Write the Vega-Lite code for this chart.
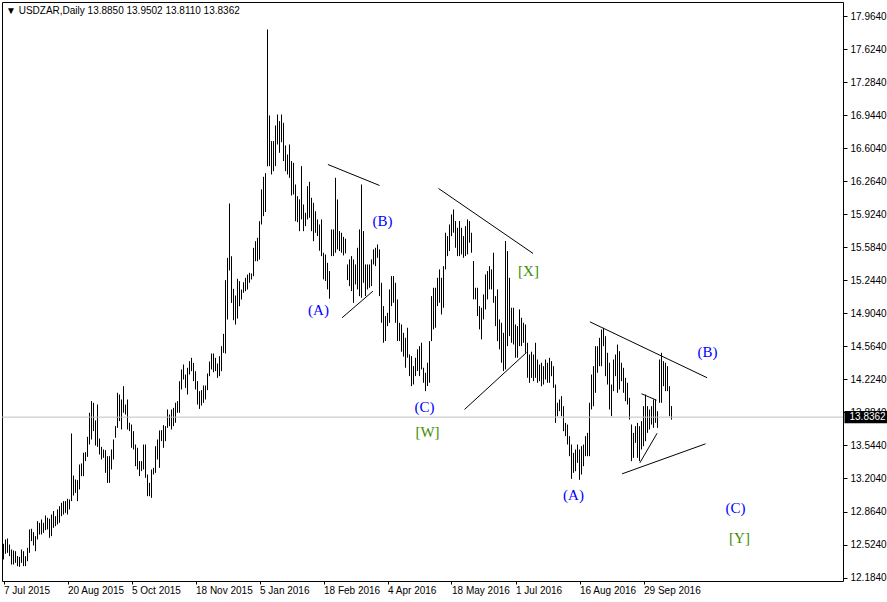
{
"$schema": "https://vega.github.io/schema/vega-lite/v6.json",
"width": 841, "height": 579,
"autosize": "none",
"padding": {"left": 2, "top": 2, "right": 44, "bottom": 21},
"background": "white",
"config": {"view": {"stroke": "black", "strokeWidth": 1}, "font": "Liberation Sans", "axis": {"labelOverlap": false, "labelFlush": false}},
"datasets": {
"bars": [
{"i":0,"h":12.531,"l":12.370},{"i":1,"h":12.576,"l":12.428},{"i":2,"h":12.586,"l":12.438},{"i":3,"h":12.524,"l":12.404},{"i":4,"h":12.473,"l":12.318},{"i":5,"h":12.462,"l":12.318},{"i":6,"h":12.455,"l":12.335},{"i":7,"h":12.404,"l":12.301},{"i":8,"h":12.397,"l":12.294},{"i":9,"h":12.473,"l":12.335},
{"i":10,"h":12.455,"l":12.301},{"i":11,"h":12.404,"l":12.301},{"i":12,"h":12.490,"l":12.352},{"i":13,"h":12.679,"l":12.438},{"i":14,"h":12.686,"l":12.559},{"i":15,"h":12.651,"l":12.514},{"i":16,"h":12.610,"l":12.455},{"i":17,"h":12.765,"l":12.576},{"i":18,"h":12.747,"l":12.627},{"i":19,"h":12.782,"l":12.627},
{"i":20,"h":12.747,"l":12.644},{"i":21,"h":12.823,"l":12.672},{"i":22,"h":12.799,"l":12.679},{"i":23,"h":12.789,"l":12.593},{"i":24,"h":12.833,"l":12.610},{"i":25,"h":12.868,"l":12.696},{"i":26,"h":12.816,"l":12.713},{"i":27,"h":12.885,"l":12.730},{"i":28,"h":12.919,"l":12.747},{"i":29,"h":12.953,"l":12.816},
{"i":30,"h":12.971,"l":12.833},{"i":31,"h":12.971,"l":12.850},{"i":32,"h":12.995,"l":12.833},{"i":33,"h":12.988,"l":12.885},{"i":34,"h":13.668,"l":12.971},{"i":35,"h":13.235,"l":13.029},{"i":36,"h":13.194,"l":13.056},{"i":37,"h":13.187,"l":12.971},{"i":38,"h":13.348,"l":13.091},{"i":39,"h":13.359,"l":13.228},
{"i":40,"h":13.469,"l":13.228},{"i":41,"h":13.475,"l":13.383},{"i":42,"h":13.633,"l":13.427},{"i":43,"h":13.881,"l":13.554},{"i":44,"h":14.001,"l":13.606},{"i":45,"h":13.984,"l":13.692},{"i":46,"h":13.802,"l":13.544},{"i":47,"h":13.966,"l":13.530},{"i":48,"h":13.616,"l":13.451},{"i":49,"h":13.530,"l":13.400},
{"i":50,"h":13.503,"l":13.417},{"i":51,"h":13.496,"l":13.262},{"i":52,"h":13.434,"l":13.159},{"i":53,"h":13.434,"l":13.159},{"i":54,"h":13.503,"l":13.297},{"i":55,"h":13.606,"l":13.400},{"i":56,"h":13.743,"l":13.623},{"i":57,"h":14.087,"l":13.726},{"i":58,"h":14.069,"l":13.795},{"i":59,"h":14.018,"l":13.709},
{"i":60,"h":14.155,"l":13.881},{"i":61,"h":13.966,"l":13.863},{"i":62,"h":14.018,"l":13.709},{"i":63,"h":13.778,"l":13.692},{"i":64,"h":13.760,"l":13.520},{"i":65,"h":13.692,"l":13.503},{"i":66,"h":13.554,"l":13.331},{"i":67,"h":13.520,"l":13.297},{"i":68,"h":13.383,"l":13.228},{"i":69,"h":13.383,"l":13.280},
{"i":70,"h":13.554,"l":13.297},{"i":71,"h":13.554,"l":13.211},{"i":72,"h":13.245,"l":13.022},{"i":73,"h":13.159,"l":13.022},{"i":74,"h":13.297,"l":13.005},{"i":75,"h":13.314,"l":13.245},{"i":76,"h":13.537,"l":13.262},{"i":77,"h":13.606,"l":13.400},{"i":78,"h":13.699,"l":13.314},{"i":79,"h":13.702,"l":13.589},
{"i":80,"h":13.754,"l":13.520},{"i":81,"h":13.743,"l":13.589},{"i":82,"h":13.915,"l":13.726},{"i":83,"h":13.863,"l":13.743},{"i":84,"h":13.915,"l":13.709},{"i":85,"h":13.932,"l":13.743},{"i":86,"h":13.984,"l":13.778},{"i":87,"h":14.001,"l":13.881},{"i":88,"h":14.206,"l":13.881},{"i":89,"h":14.327,"l":14.121},
{"i":90,"h":14.378,"l":14.224},{"i":91,"h":14.275,"l":14.138},{"i":92,"h":14.344,"l":14.069},{"i":93,"h":14.413,"l":14.275},{"i":94,"h":14.447,"l":14.310},{"i":95,"h":14.395,"l":14.207},{"i":96,"h":14.310,"l":14.121},{"i":97,"h":14.207,"l":13.966},{"i":98,"h":14.104,"l":13.921},{"i":99,"h":14.114,"l":13.956},
{"i":100,"h":14.162,"l":13.983},{"i":101,"h":14.162,"l":14.018},{"i":102,"h":14.286,"l":14.114},{"i":103,"h":14.409,"l":14.258},{"i":104,"h":14.492,"l":14.327},{"i":105,"h":14.492,"l":14.299},{"i":106,"h":14.447,"l":14.310},{"i":107,"h":14.389,"l":14.241},{"i":108,"h":14.464,"l":14.258},{"i":109,"h":14.567,"l":14.310},
{"i":110,"h":14.694,"l":14.498},{"i":111,"h":15.247,"l":14.492},{"i":112,"h":15.477,"l":14.842},{"i":113,"h":16.037,"l":15.347},{"i":114,"h":15.494,"l":15.013},{"i":115,"h":15.158,"l":14.835},{"i":116,"h":15.089,"l":14.790},{"i":117,"h":15.261,"l":14.852},{"i":118,"h":15.237,"l":14.979},{"i":119,"h":15.151,"l":15.048},
{"i":120,"h":15.226,"l":15.117},{"i":121,"h":15.271,"l":15.134},{"i":122,"h":15.305,"l":15.151},{"i":123,"h":15.323,"l":15.220},{"i":124,"h":15.316,"l":15.254},{"i":125,"h":15.580,"l":15.288},{"i":126,"h":15.649,"l":15.443},{"i":127,"h":15.684,"l":15.443},{"i":128,"h":15.855,"l":15.460},{"i":129,"h":16.182,"l":15.821},
{"i":130,"h":16.312,"l":15.907},{"i":131,"h":16.350,"l":15.950},{"i":132,"h":17.830,"l":16.420},{"i":133,"h":16.944,"l":16.422},{"i":134,"h":16.680,"l":16.336},{"i":135,"h":16.680,"l":16.370},{"i":136,"h":16.841,"l":16.422},{"i":137,"h":16.954,"l":16.645},{"i":138,"h":16.886,"l":16.559},{"i":139,"h":16.954,"l":16.669},
{"i":140,"h":16.868,"l":16.474},{"i":141,"h":16.635,"l":16.370},{"i":142,"h":16.542,"l":16.336},{"i":143,"h":16.645,"l":16.302},{"i":144,"h":16.474,"l":16.120},{"i":145,"h":16.456,"l":16.130},{"i":146,"h":16.233,"l":15.855},{"i":147,"h":16.113,"l":15.845},{"i":148,"h":16.080,"l":15.752},{"i":149,"h":16.422,"l":15.873},
{"i":150,"h":16.027,"l":15.752},{"i":151,"h":15.941,"l":15.804},{"i":152,"h":16.216,"l":15.873},{"i":153,"h":16.261,"l":15.890},{"i":154,"h":16.096,"l":15.752},{"i":155,"h":16.044,"l":15.649},{"i":156,"h":15.958,"l":15.735},{"i":157,"h":15.873,"l":15.701},{"i":158,"h":15.821,"l":15.550},{"i":159,"h":15.873,"l":15.495},
{"i":160,"h":15.529,"l":15.255},{"i":161,"h":15.512,"l":15.238},{"i":162,"h":15.426,"l":15.152},{"i":163,"h":15.341,"l":15.056},{"i":164,"h":15.770,"l":15.495},{"i":165,"h":15.770,"l":15.495},{"i":166,"h":16.302,"l":15.530},{"i":167,"h":16.079,"l":15.564},{"i":168,"h":15.753,"l":15.547},{"i":169,"h":15.736,"l":15.530},
{"i":170,"h":15.694,"l":15.502},{"i":171,"h":15.674,"l":15.523},{"i":172,"h":15.409,"l":15.248},{"i":173,"h":15.461,"l":15.186},{"i":174,"h":15.495,"l":15.135},{"i":175,"h":15.461,"l":15.014},{"i":176,"h":15.409,"l":15.203},{"i":177,"h":15.581,"l":15.152},{"i":178,"h":15.770,"l":15.083},{"i":179,"h":16.233,"l":15.066},
{"i":180,"h":15.753,"l":15.220},{"i":181,"h":15.409,"l":15.083},{"i":182,"h":15.409,"l":15.152},{"i":183,"h":15.409,"l":15.169},{"i":184,"h":15.461,"l":15.186},{"i":185,"h":15.564,"l":15.409},{"i":186,"h":15.581,"l":15.392},{"i":187,"h":15.615,"l":15.478},{"i":188,"h":15.564,"l":15.083},{"i":189,"h":15.220,"l":14.808},
{"i":190,"h":14.980,"l":14.602},{"i":191,"h":14.877,"l":14.620},{"i":192,"h":14.911,"l":14.774},{"i":193,"h":15.152,"l":14.808},{"i":194,"h":15.289,"l":14.980},{"i":195,"h":15.289,"l":15.014},{"i":196,"h":15.220,"l":14.808},{"i":197,"h":15.049,"l":14.620},{"i":198,"h":14.808,"l":14.620},{"i":199,"h":14.791,"l":14.510},
{"i":200,"h":14.705,"l":14.460},{"i":201,"h":14.654,"l":14.345},{"i":202,"h":14.757,"l":14.448},{"i":203,"h":14.482,"l":14.259},{"i":204,"h":14.465,"l":14.156},{"i":205,"h":14.362,"l":14.173},{"i":206,"h":14.448,"l":14.259},{"i":207,"h":14.534,"l":14.311},{"i":208,"h":14.568,"l":14.259},{"i":209,"h":14.602,"l":14.328},
{"i":210,"h":14.345,"l":14.190},{"i":211,"h":14.293,"l":14.104},{"i":212,"h":14.396,"l":14.156},{"i":213,"h":14.619,"l":14.190},{"i":214,"h":15.083,"l":14.619},{"i":215,"h":15.169,"l":14.740},{"i":216,"h":15.169,"l":14.757},{"i":217,"h":15.272,"l":14.980},{"i":218,"h":15.358,"l":15.014},{"i":219,"h":15.272,"l":14.894},
{"i":220,"h":15.392,"l":14.963},{"i":221,"h":15.736,"l":15.358},{"i":222,"h":15.701,"l":15.495},{"i":223,"h":15.821,"l":15.547},{"i":224,"h":15.924,"l":15.701},{"i":225,"h":15.976,"l":15.736},{"i":226,"h":15.856,"l":15.581},{"i":227,"h":15.787,"l":15.495},{"i":228,"h":15.856,"l":15.495},{"i":229,"h":15.787,"l":15.513},
{"i":230,"h":15.701,"l":15.478},{"i":231,"h":15.804,"l":15.495},{"i":232,"h":15.873,"l":15.513},{"i":233,"h":15.856,"l":15.633},{"i":234,"h":15.736,"l":15.530},{"i":235,"h":15.444,"l":15.049},{"i":236,"h":15.169,"l":15.049},{"i":237,"h":15.169,"l":14.877},{"i":238,"h":14.980,"l":14.740},{"i":239,"h":14.963,"l":14.637},
{"i":240,"h":15.100,"l":14.843},{"i":241,"h":15.306,"l":14.946},{"i":242,"h":15.341,"l":15.049},{"i":243,"h":15.392,"l":15.152},{"i":244,"h":15.358,"l":15.152},{"i":245,"h":15.530,"l":15.014},{"i":246,"h":15.083,"l":14.774},{"i":247,"h":15.152,"l":14.619},{"i":248,"h":14.843,"l":14.534},{"i":249,"h":14.808,"l":14.396},
{"i":250,"h":14.705,"l":14.311},{"i":251,"h":15.650,"l":14.328},{"i":252,"h":15.547,"l":14.568},{"i":253,"h":15.272,"l":14.671},{"i":254,"h":14.963,"l":14.602},{"i":255,"h":14.963,"l":14.585},{"i":256,"h":14.791,"l":14.448},{"i":257,"h":14.774,"l":14.448},{"i":258,"h":14.946,"l":14.568},{"i":259,"h":14.860,"l":14.568},
{"i":260,"h":14.808,"l":14.602},{"i":261,"h":14.791,"l":14.499},{"i":262,"h":14.602,"l":14.242},{"i":263,"h":14.482,"l":14.190},{"i":264,"h":14.510,"l":14.240},{"i":265,"h":14.481,"l":14.207},{"i":266,"h":14.602,"l":14.241},{"i":267,"h":14.430,"l":14.190},{"i":268,"h":14.378,"l":14.207},{"i":269,"h":14.396,"l":14.155},
{"i":270,"h":14.361,"l":14.172},{"i":271,"h":14.430,"l":14.224},{"i":272,"h":14.396,"l":14.190},{"i":273,"h":14.447,"l":14.190},{"i":274,"h":14.413,"l":14.258},{"i":275,"h":14.361,"l":14.138},{"i":276,"h":14.172,"l":13.777},{"i":277,"h":13.984,"l":13.846},{"i":278,"h":14.018,"l":13.898},{"i":279,"h":14.052,"l":13.846},
{"i":280,"h":13.949,"l":13.692},{"i":281,"h":13.777,"l":13.640},{"i":282,"h":13.760,"l":13.554},{"i":283,"h":13.640,"l":13.434},{"i":284,"h":13.554,"l":13.200},{"i":285,"h":13.468,"l":13.262},{"i":286,"h":13.503,"l":13.279},{"i":287,"h":13.554,"l":13.365},{"i":288,"h":13.503,"l":13.190},{"i":289,"h":13.537,"l":13.245},
{"i":290,"h":13.554,"l":13.331},{"i":291,"h":13.640,"l":13.434},{"i":292,"h":13.674,"l":13.434},{"i":293,"h":13.984,"l":13.434},{"i":294,"h":14.275,"l":13.915},{"i":295,"h":14.361,"l":13.949},{"i":296,"h":14.567,"l":14.087},{"i":297,"h":14.567,"l":14.293},{"i":298,"h":14.653,"l":14.361},{"i":299,"h":14.739,"l":14.361},
{"i":300,"h":14.756,"l":14.567},{"i":301,"h":14.670,"l":14.258},{"i":302,"h":14.499,"l":14.172},{"i":303,"h":14.396,"l":13.915},{"i":304,"h":14.172,"l":13.846},{"i":305,"h":14.430,"l":14.104},{"i":306,"h":14.481,"l":14.258},{"i":307,"h":14.584,"l":14.087},{"i":308,"h":14.516,"l":14.121},{"i":309,"h":14.396,"l":14.207},
{"i":310,"h":14.344,"l":14.087},{"i":311,"h":14.241,"l":14.001},{"i":312,"h":14.190,"l":13.966},{"i":313,"h":14.035,"l":13.812},{"i":314,"h":13.760,"l":13.383},{"i":315,"h":13.674,"l":13.417},{"i":316,"h":13.743,"l":13.571},{"i":317,"h":13.777,"l":13.417},{"i":318,"h":13.743,"l":13.383},{"i":319,"h":13.795,"l":13.503},
{"i":320,"h":13.949,"l":13.537},{"i":321,"h":14.069,"l":13.588},{"i":322,"h":13.949,"l":13.674},{"i":323,"h":13.915,"l":13.709},{"i":324,"h":13.949,"l":13.760},{"i":325,"h":14.018,"l":13.726},{"i":326,"h":14.018,"l":13.777},{"i":327,"h":13.898,"l":13.726},{"i":328,"h":14.430,"l":13.984},{"i":329,"h":14.499,"l":13.984},
{"i":330,"h":14.413,"l":14.155},{"i":331,"h":14.396,"l":14.104},{"i":332,"h":14.361,"l":14.104},{"i":333,"h":14.155,"l":13.846},{"i":334,"h":13.9502,"l":13.8110}
],
"lines": [
{"x1":162.2,"y1":16.439,"x2":188,"y2":16.223},
{"x1":169.3,"y1":14.860,"x2":184.7,"y2":15.134},
{"x1":217.5,"y1":16.192,"x2":264.8,"y2":15.522},
{"x1":230.5,"y1":13.915,"x2":261.5,"y2":14.502},
{"x1":293.2,"y1":14.818,"x2":351.8,"y2":14.242},
{"x1":309.3,"y1":13.252,"x2":351,"y2":13.561},
{"x1":319,"y1":14.077,"x2":326.5,"y2":14.011},
{"x1":318.2,"y1":13.366,"x2":326.8,"y2":13.670}
],
"labels": [
{"i":157.5,"p":14.935,"t":"(A)","k":"minor"},
{"i":189.5,"p":15.852,"t":"(B)","k":"minor"},
{"i":210.5,"p":13.936,"t":"(C)","k":"minor"},
{"i":212,"p":13.688,"t":"[W]","k":"major"},
{"i":262.5,"p":15.337,"t":"[X]","k":"major"},
{"i":285,"p":13.029,"t":"(A)","k":"minor"},
{"i":352,"p":14.512,"t":"(B)","k":"minor"},
{"i":366,"p":12.895,"t":"(C)","k":"minor"},
{"i":368,"p":12.586,"t":"[Y]","k":"major"}
],
"last": [{"p":13.8362,"t":"13.8362"}],
"header": [{"t":"▼ USDZAR,Daily  13.8850 13.9502 13.8110 13.8362"}]
},
"layer": [
{"data": {"name": "bars"},
 "mark": {"type": "rule", "color": "black", "strokeWidth": 1},
 "encoding": {
  "x": {"field": "i", "type": "quantitative", "title": null,
        "scale": {"domain": [-0.75, 419.75], "nice": false, "zero": false},
        "axis": {"orient": "bottom", "values": [0,32,64,96,128,160,192,224,256,288,320], "tickCount": 30,
                 "labelExpr": "['7 Jul 2015','20 Aug 2015','5 Oct 2015','18 Nov 2015','5 Jan 2016','18 Feb 2016','4 Apr 2016','18 May 2016','1 Jul 2016','16 Aug 2016','29 Sep 2016'][round(datum.value/32)]",
                 "domain": false, "grid": false, "ticks": true, "tickSize": 3, "tickColor": "black",
                 "labelAlign": "left", "labelBaseline": "top", "labelPadding": 1, "labelFlush": false, "labelOverlap": false,
                 "labelFont": "Liberation Sans", "labelFontSize": 10, "labelColor": "black"}},
  "y": {"field": "h", "type": "quantitative", "title": null,
        "scale": {"domain": [12.148, 18.113], "nice": false, "zero": false},
        "axis": {"orient": "right", "values": [12.184,12.524,12.864,13.204,13.544,13.884,14.224,14.564,14.904,15.244,15.584,15.924,16.264,16.604,16.944,17.284,17.624,17.964], "tickCount": 30,
                 "format": ".4f", "domain": false, "grid": false, "ticks": true, "tickSize": 4, "tickColor": "black",
                 "labelPadding": 3, "labelBaseline": "middle", "labelFlush": false, "labelOverlap": false,
                 "labelFont": "Liberation Sans", "labelFontSize": 10, "labelColor": "black"}},
  "y2": {"field": "l"}}},
{"data": {"name": "last"},
 "mark": {"type": "rule", "color": "#c0c0c0", "strokeWidth": 1},
 "encoding": {"y": {"field": "p", "type": "quantitative", "title": null}}},
{"data": {"name": "lines"},
 "mark": {"type": "rule", "color": "black", "strokeWidth": 1},
 "encoding": {
  "x": {"field": "x1", "type": "quantitative", "title": null},
  "x2": {"field": "x2"},
  "y": {"field": "y1", "type": "quantitative", "title": null},
  "y2": {"field": "y2"}}},
{"data": {"name": "labels"},
 "mark": {"type": "text", "font": "Liberation Serif", "fontSize": 15, "align": "center", "baseline": "middle"},
 "encoding": {
  "x": {"field": "i", "type": "quantitative", "title": null},
  "y": {"field": "p", "type": "quantitative", "title": null},
  "text": {"field": "t"},
  "color": {"field": "k", "type": "nominal", "scale": {"domain": ["minor", "major"], "range": ["#0000ff", "#3c8c00"]}, "legend": null}}},
{"data": {"name": "header"},
 "mark": {"type": "text", "color": "black", "font": "Liberation Sans", "fontSize": 10, "align": "left", "baseline": "middle"},
 "encoding": {
  "x": {"datum": 1.25, "type": "quantitative"},
  "y": {"datum": 18.02, "type": "quantitative"},
  "text": {"field": "t"}}},
{"data": {"name": "last"},
 "mark": {"type": "rect", "color": "black"},
 "encoding": {
  "x": {"datum": 420.5, "type": "quantitative"},
  "x2": {"datum": 442.5},
  "y": {"datum": 13.899, "type": "quantitative"},
  "y2": {"datum": 13.773}}},
{"data": {"name": "last"},
 "mark": {"type": "text", "color": "white", "font": "Liberation Sans", "fontSize": 10, "align": "left", "baseline": "middle"},
 "encoding": {
  "x": {"datum": 423, "type": "quantitative"},
  "y": {"field": "p", "type": "quantitative", "title": null},
  "text": {"field": "t"}}}
]
}
